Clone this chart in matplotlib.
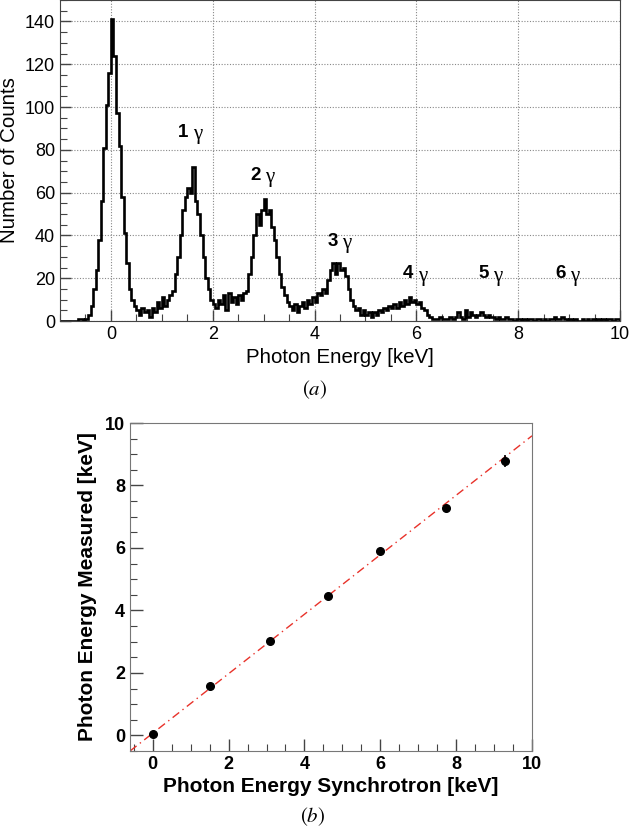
import numpy as np
import matplotlib
matplotlib.use("Agg")
import matplotlib.pyplot as plt
from matplotlib.ticker import MultipleLocator

plt.rcParams['font.family'] = ['Liberation Sans', 'DejaVu Sans']
plt.rcParams['mathtext.fontset'] = 'stix'

# ---------------- data: panel (a) histogram ----------------
hist_start = -1.0      # keV, left edge of first bin
bin_width = 0.05       # keV
counts = [
    # -1.00 .. -0.55
    0, 0, 0, 0, 0, 0, 0, 1, 1, 0,
    # -0.50 .. -0.05
    1, 3, 7, 15, 24, 38, 56, 81, 101, 116,
    # 0.00 .. 0.45
    141, 124, 97, 82, 58, 41, 27, 15, 10, 7,
    # 0.50 .. 0.95
    5, 3, 6, 4, 5, 2, 6, 4, 9, 6,
    # 1.00 .. 1.45
    11, 7, 10, 12, 14, 22, 30, 40, 52, 58,
    # 1.50 .. 1.95
    62, 60, 72, 56, 50, 40, 30, 20, 15, 10,
    # 2.00 .. 2.45
    8, 6, 10, 8, 12, 5, 13, 9, 11, 8,
    # 2.50 .. 2.95
    12, 10, 13, 14, 22, 30, 40, 50, 45, 52,
    # 3.00 .. 3.45
    57, 50, 52, 44, 38, 30, 22, 16, 12, 9,
    # 3.50 .. 3.95
    7, 5, 8, 4, 7, 9, 6, 10, 8, 11,
    # 4.00 .. 4.45
    9, 13, 12, 15, 13, 19, 24, 27, 22, 27,
    # 4.50 .. 4.95
    24, 25, 21, 15, 10, 7, 5, 6, 3, 5,
    # 5.00 .. 5.45
    3, 4, 2, 4, 3, 5, 4, 6, 5, 7,
    # 5.50 .. 5.95
    6, 8, 6, 9, 7, 10, 8, 11, 9, 10,
    # 6.00 .. 6.45
    8, 9, 6, 5, 3, 2, 1, 1, 1, 2,
    # 6.50 .. 6.95
    1, 1, 1, 2, 1, 2, 4, 2, 1, 5,
    # 7.00 .. 7.45
    2, 4, 3, 2, 3, 4, 3, 2, 3, 2,
    # 7.50 .. 7.95
    2, 1, 2, 1, 1, 2, 1, 1, 0, 1,
    # 8.00 .. 8.45
    1, 0, 1, 0, 1, 1, 0, 1, 1, 0,
    # 8.50 .. 8.95
    1, 0, 1, 1, 2, 1, 1, 2, 1, 0,
    # 9.00 .. 9.45
    1, 0, 1, 0, 0, 1, 0, 1, 0, 1,
    # 9.50 .. 9.95
    0, 1, 0, 1, 0, 1, 1, 0, 1, 1,
]
peak_numbers = ["1", "2", "3", "4", "5", "6"]
peak_label_x = [1.55, 2.98, 4.48, 5.97, 7.46, 8.97]
peak_label_y = [88, 68, 37, 22, 22, 22]

# ---------------- data: panel (b) calibration ----------------
e_synch = [0.0, 1.52, 3.08, 4.63, 5.98, 7.72, 9.28]
e_meas = [0.05, 1.58, 3.02, 4.45, 5.89, 7.28, 8.79]
e_meas_err = [0.02, 0.02, 0.03, 0.03, 0.04, 0.05, 0.2]
fit_slope = 0.952
fit_intercept = 0.07

# ---------------- figure ----------------
fig = plt.figure(figsize=(6.3, 8.34), dpi=100)

# panel (a)
ax1 = fig.add_axes([60/630, 1-321/834, 560/630, 321/834])
edges = hist_start + bin_width*np.arange(len(counts)+1)
ax1.stairs(counts, edges, color='black', lw=1.9)
ax1.set_xlim(-1, 10)
ax1.set_ylim(0, 150)
ax1.xaxis.set_major_locator(MultipleLocator(2))
ax1.xaxis.set_minor_locator(MultipleLocator(0.5))
ax1.yaxis.set_major_locator(MultipleLocator(20))
ax1.yaxis.set_minor_locator(MultipleLocator(5))
ax1.grid(True, which='major', color='#888888', ls=(0, (1, 1.5)), lw=0.8)
ax1.set_axisbelow(True)
ax1.tick_params(which='both', direction='in', top=False, right=False,
                labelsize=13, color='#444444')
ax1.tick_params(which='major', length=8, width=1)
ax1.tick_params(which='minor', length=5, width=0.8)
for s in ax1.spines.values():
    s.set_color('#444444')
ax1.set_xlabel('Photon Energy [keV]', fontsize=14.8, labelpad=4)
ax1.set_ylabel('Number of Counts', fontsize=14.8, labelpad=4)
for t, x, y in zip(peak_numbers, peak_label_x, peak_label_y):
    ax1.annotate(t, (x, y), xytext=(-1, 0), textcoords='offset points',
                 fontsize=13.5, fontweight='bold', ha='right', va='center')
    ax1.annotate('γ', (x, y), xytext=(2, -1.5), textcoords='offset points',
                 fontsize=15, family=['Liberation Serif', 'DejaVu Serif'],
                 ha='left', va='center')
fig.text(0.5, 1-390/834, r'$(a)$', fontsize=15, ha='center', va='center')

# panel (b)
ax2 = fig.add_axes([130/630, 1-751/834, 402/630, 328/834])
ax2.set_xlim(-0.6, 10)
ax2.set_ylim(-0.5, 10)
xfit = np.array(ax2.get_xlim())
ax2.plot(xfit, fit_intercept + fit_slope*xfit, color='#e8322a', lw=1.0,
         ls=(0, (6, 3, 1, 3)))
ax2.errorbar(e_synch, e_meas, yerr=e_meas_err, fmt='o', color='black',
             ms=5.5, elinewidth=1.2, capsize=0, zorder=3)
ax2.xaxis.set_major_locator(MultipleLocator(2))
ax2.xaxis.set_minor_locator(MultipleLocator(0.5))
ax2.yaxis.set_major_locator(MultipleLocator(2))
ax2.yaxis.set_minor_locator(MultipleLocator(0.5))
ax2.tick_params(which='both', direction='in', top=False, right=False,
                labelsize=13, color='#444444')
ax2.tick_params(which='major', length=9, width=1)
ax2.tick_params(which='minor', length=5, width=0.8)
for lab in ax2.get_xticklabels() + ax2.get_yticklabels():
    lab.set_fontweight('bold')
for s in ax2.spines.values():
    s.set_color('#777777')
ax2.set_xlabel('Photon Energy Synchrotron [keV]', fontsize=15,
               fontweight='bold', labelpad=3)
ax2.set_ylabel('Photon Energy Measured [keV]', fontsize=15,
               fontweight='bold', labelpad=6)
fig.text(313/630, 1-817/834, r'$(b)$', fontsize=15, ha='center', va='center')

fig.savefig('out.png', dpi=100)
